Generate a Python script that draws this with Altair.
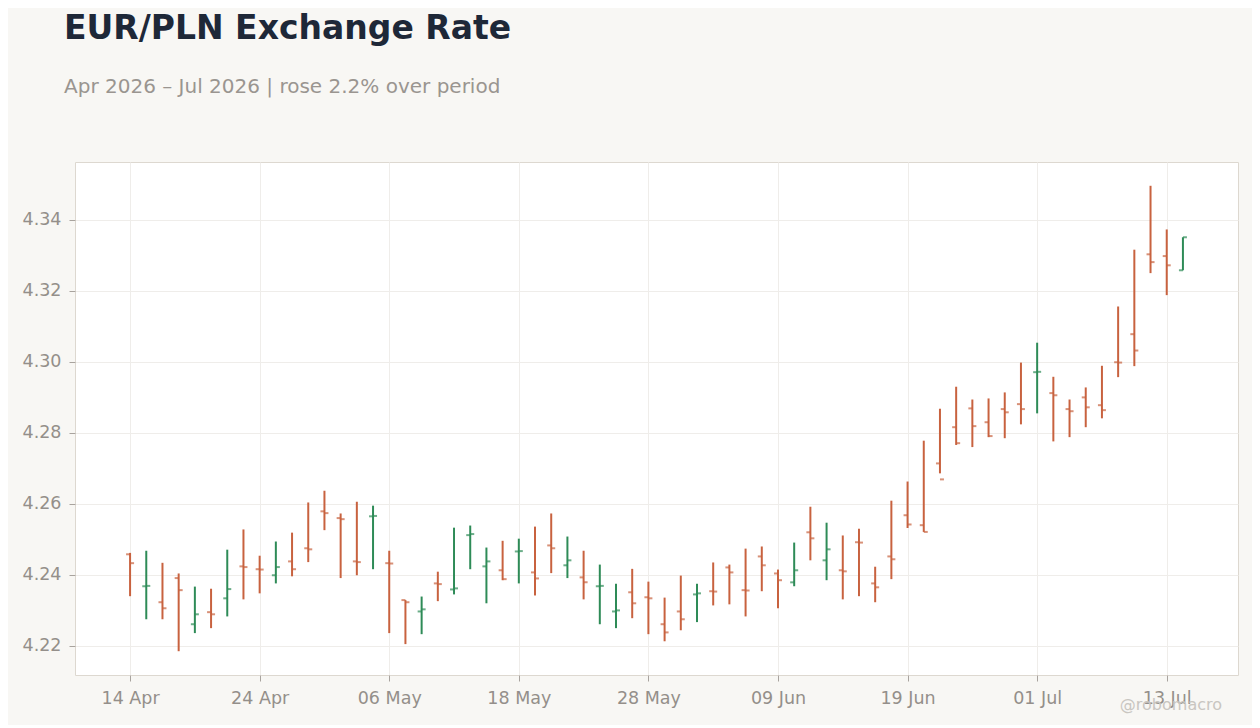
import altair as alt
import pandas as pd

# business days 14 Apr 2026 .. 14 Jul 2026
dates = pd.bdate_range("2026-04-14", "2026-07-14")

opens = [
    4.2458, 4.2368, 4.2323, 4.2391, 4.2261, 4.2295, 4.2334, 4.2424, 4.2416, 4.2399,
    4.2438, 4.2475, 4.2579, 4.2560, 4.2438, 4.2565, 4.2433, 4.2329, 4.2297, 4.2376,
    4.2359, 4.2512, 4.2424, 4.2413, 4.2466, 4.2407, 4.2483, 4.2427, 4.2393, 4.2368,
    4.2297, 4.2351, 4.2337, 4.2261, 4.2297, 4.2345, 4.2354, 4.2421, 4.2357, 4.2452,
    4.2404, 4.2379, 4.2520, 4.2441, 4.2413, 4.2492, 4.2376, 4.2452, 4.2568, 4.2540,
    4.2714, 4.2816, 4.2869, 4.2830, 4.2867, 4.2881, 4.2971, 4.2912, 4.2867, 4.2900,
    4.2878, 4.2999, 4.3078, 4.3303, 4.3298, 4.3258,
]
highs = [
    4.2462, 4.2468, 4.2434, 4.2404, 4.2367, 4.2361, 4.2471, 4.2528, 4.2454, 4.2494,
    4.2519, 4.2604, 4.2637, 4.2573, 4.2606, 4.2595, 4.2468, 4.2329, 4.2339, 4.2409,
    4.2533, 4.2539, 4.2477, 4.2496, 4.2502, 4.2536, 4.2573, 4.2508, 4.2468, 4.2429,
    4.2375, 4.2417, 4.2381, 4.2336, 4.2398, 4.2375, 4.2435, 4.2429, 4.2474, 4.2480,
    4.2415, 4.2491, 4.2592, 4.2547, 4.2511, 4.2530, 4.2423, 4.2609, 4.2663, 4.2778,
    4.2868, 4.2930, 4.2894, 4.2897, 4.2914, 4.2998, 4.3054, 4.2958, 4.2894, 4.2928,
    4.2989, 4.3156, 4.3316, 4.3496, 4.3373, 4.3351,
]
lows = [
    4.2340, 4.2275, 4.2275, 4.2185, 4.2236, 4.2250, 4.2283, 4.2331, 4.2348, 4.2376,
    4.2396, 4.2436, 4.2526, 4.2391, 4.2399, 4.2416, 4.2236, 4.2205, 4.2233, 4.2326,
    4.2345, 4.2416, 4.2320, 4.2385, 4.2376, 4.2342, 4.2405, 4.2391, 4.2331, 4.2261,
    4.2250, 4.2278, 4.2233, 4.2213, 4.2244, 4.2267, 4.2314, 4.2317, 4.2283, 4.2354,
    4.2306, 4.2368, 4.2441, 4.2385, 4.2331, 4.2340, 4.2323, 4.2388, 4.2532, 4.2521,
    4.2686, 4.2766, 4.2760, 4.2788, 4.2785, 4.2824, 4.2855, 4.2776, 4.2788, 4.2816,
    4.2841, 4.2957, 4.2988, 4.3250, 4.3188, 4.3258,
]
closes = [
    4.2433, 4.2369, 4.2306, 4.2357, 4.2289, 4.2289, 4.2360, 4.2422, 4.2415, 4.2422,
    4.2416, 4.2472, 4.2574, 4.2557, 4.2436, 4.2566, 4.2432, 4.2323, 4.2303, 4.2374,
    4.2362, 4.2515, 4.2438, 4.2388, 4.2467, 4.2390, 4.2475, 4.2441, 4.2379, 4.2369,
    4.2300, 4.2320, 4.2334, 4.2238, 4.2275, 4.2348, 4.2353, 4.2407, 4.2356, 4.2427,
    4.2385, 4.2413, 4.2503, 4.2472, 4.2410, 4.2491, 4.2365, 4.2444, 4.2542, 4.2521,
    4.2669, 4.2771, 4.2819, 4.2791, 4.2858, 4.2867, 4.2972, 4.2906, 4.2861, 4.2872,
    4.2864, 4.2998, 4.3032, 4.3281, 4.3272, 4.3351,
]

tick_labels = ["14 Apr", "24 Apr", "06 May", "18 May", "28 May",
               "09 Jun", "19 Jun", "01 Jul", "13 Jul"]

UP = "#2E8B57"
DOWN = "#C8623F"
BG = "#F8F7F4"

df = pd.DataFrame({
    "i": range(len(dates)),
    "date": dates,
    "open": opens,
    "high": highs,
    "low": lows,
    "close": closes,
})
df["dir"] = ["up" if c >= o else "down" for o, c in zip(opens, closes)]

# x is the trading-day index, labelled every 8 sessions
label_expr = "[" + ",".join(f"'{t}'" for t in tick_labels) + "][round(datum.value / 8)]"

x = alt.X("i:Q",
          scale=alt.Scale(domain=[-3.4, 68.4], nice=False, zero=False),
          axis=alt.Axis(values=[8 * k for k in range(len(tick_labels))],
                        labelExpr=label_expr, title=None, grid=True))
y = alt.Y("low:Q",
          scale=alt.Scale(domain=[4.2118, 4.3563], nice=False, zero=False),
          axis=alt.Axis(values=[4.22, 4.24, 4.26, 4.28, 4.30, 4.32, 4.34],
                        format=".2f", title=None, grid=True))
color = alt.Color("dir:N", scale=alt.Scale(domain=["up", "down"], range=[UP, DOWN]),
                  legend=None)

base = alt.Chart(df)

# high-low bar, open tick to the left, close tick to the right
hl = base.mark_rule(strokeWidth=2).encode(x=x, y=y, y2="high:Q", color=color)
op = base.mark_tick(orient="horizontal", size=4, thickness=2, xOffset=-2).encode(
    x="i:Q", y="open:Q", color=color)
cl = base.mark_tick(orient="horizontal", size=4, thickness=2, xOffset=2).encode(
    x="i:Q", y="close:Q", color=color)

mark = alt.Chart(pd.DataFrame({"t": ["@robomacro"]})).mark_text(
    align="right", baseline="alphabetic", fontSize=16, color="#C9C6C1",
    font="DejaVu Sans").encode(
    text="t:N", x=alt.value(1147), y=alt.value(548))

chart = (
    alt.layer(hl, op, cl, mark)
    .properties(
        width=1163,
        height=513,
        autosize=alt.AutoSizeParams(type="none"),
        padding={"left": 67, "top": 154, "right": 14, "bottom": 50},
        background=BG,
        title=alt.TitleParams(
            text="EUR/PLN Exchange Rate",
            subtitle="Apr 2026 – Jul 2026 | rose 2.2% over period",
            anchor="start",
            frame="group",
            dx=-11,
            offset=65,
            subtitlePadding=31,
        ),
    )
    .configure_view(fill="white", stroke="#DDD8D0", strokeWidth=1)
    .configure_axis(
        labelFont="DejaVu Sans", labelFontSize=17.5, labelColor="#948F8A",
        gridColor="#EFEDEA", gridWidth=1, domain=False,
        tickColor="#A8A39E", tickSize=6, labelPadding=8,
    )
    .configure_title(
        font="DejaVu Sans", fontSize=33, fontWeight="bold", color="#1E2838",
        subtitleFont="DejaVu Sans", subtitleFontSize=20, subtitleColor="#9A9590",
    )
)

chart.save("out.html", embed_options={"renderer": "svg", "actions": False})
